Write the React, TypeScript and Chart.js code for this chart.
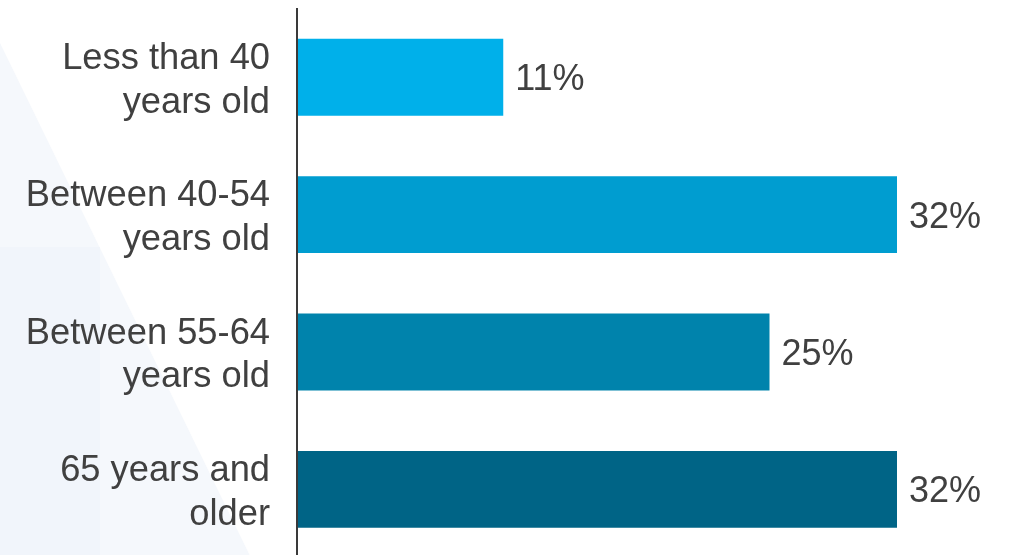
import React, { useEffect, useRef } from "react";
import { Chart, registerables } from "chart.js";

Chart.register(...registerables);

const categories: string[][] = [
  ["Less than 40", "years old"],
  ["Between 40-54", "years old"],
  ["Between 55-64", "years old"],
  ["65 years and", "older"],
];
const values: number[] = [11, 32, 25.2, 32];
const barColors: string[] = ["#00B0EA", "#009DD0", "#0083AC", "#006486"];
const valueLabels: string[] = ["11%", "32%", "25%", "32%"];

const FONT = "'Liberation Sans', Arial, sans-serif";
const TEXT = "#404040";

const backgroundPlugin = {
  id: "bgShapes",
  beforeDraw(chart: any) {
    const ctx = chart.ctx;
    ctx.save();
    ctx.fillStyle = "#ffffff";
    ctx.fillRect(0, 0, chart.width, chart.height);
    ctx.fillStyle = "#F5F8FC";
    ctx.beginPath();
    ctx.moveTo(0, 43);
    ctx.lineTo(252, 560);
    ctx.lineTo(0, 560);
    ctx.closePath();
    ctx.fill();
    ctx.fillStyle = "#F1F5FB";
    ctx.beginPath();
    ctx.moveTo(0, 247);
    ctx.lineTo(100, 247);
    ctx.lineTo(100, 560);
    ctx.lineTo(0, 560);
    ctx.closePath();
    ctx.fill();
    ctx.restore();
  },
};

const valueLabelPlugin = {
  id: "valueLabels",
  afterDatasetsDraw(chart: any) {
    const ctx = chart.ctx;
    const meta = chart.getDatasetMeta(0);
    ctx.save();
    ctx.font = `36px ${FONT}`;
    ctx.fillStyle = TEXT;
    ctx.textAlign = "left";
    ctx.textBaseline = "middle";
    meta.data.forEach((bar: any, i: number) => {
      ctx.fillText(valueLabels[i], bar.x + 12, bar.y + 3);
    });
    ctx.restore();
  },
};

export default function App() {
  const ref = useRef<HTMLCanvasElement | null>(null);

  useEffect(() => {
    if (!ref.current) return;
    const chart = new Chart(ref.current, {
      type: "bar",
      data: {
        labels: categories,
        datasets: [
          {
            data: values,
            backgroundColor: barColors,
            borderWidth: 0,
            barPercentage: 0.56,
            categoryPercentage: 1,
          },
        ],
      },
      options: {
        indexAxis: "y",
        responsive: false,
        animation: false,
        devicePixelRatio: 1,
        layout: { padding: { top: 8.65, bottom: 2, left: 0, right: 3.5 } },
        plugins: {
          legend: { display: false },
          tooltip: { enabled: false },
        },
        scales: {
          x: {
            display: false,
            min: 0,
            max: 38,
          },
          y: {
            afterFit(scale: any) {
              scale.width = 297;
              scale.paddingTop = 0;
              scale.paddingBottom = 0;
            },
            grid: { display: true, drawOnChartArea: false, drawTicks: false, tickLength: 0 },
            border: { display: true, color: "#3a3a3a", width: 2, z: 1 },
            ticks: {
              padding: 27,
              labelOffset: 3.5,
              color: TEXT,
              font: { family: FONT, size: 36.3, lineHeight: 1.2 },
            },
          },
        },
      },
      plugins: [backgroundPlugin, valueLabelPlugin],
    } as any);
    return () => chart.destroy();
  }, []);

  return (
    <div style={{ position: "fixed", left: 0, top: 0, width: 1013, height: 560, overflow: "hidden", background: "#fff" }}>
      <canvas ref={ref} width={1013} height={560} style={{ display: "block" }} />
    </div>
  );
}
